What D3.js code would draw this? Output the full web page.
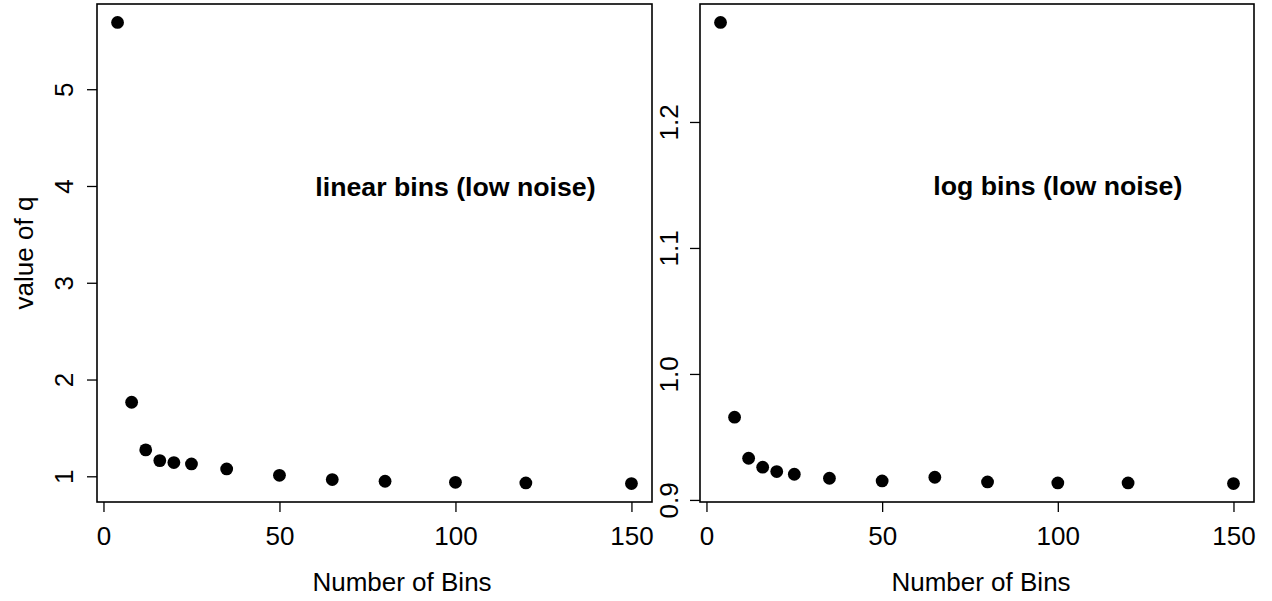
<!DOCTYPE html>
<html>
<head>
<meta charset="utf-8">
<script src="https://cdn.jsdelivr.net/npm/d3@7"></script>
<style>
  html, body { margin: 0; padding: 0; background: #fff; }
  svg { display: block; }
  text { font-family: "Liberation Sans", Arial, Helvetica, sans-serif; fill: #000; }
</style>
</head>
<body>
<svg id="chart" width="1272" height="601"></svg>
<script>
// ---- data ----
const bins = [4, 8, 12, 16, 20, 25, 35, 50, 65, 80, 100, 120, 150];
const qLinear = [5.69, 1.765, 1.273, 1.162, 1.142, 1.128, 1.076, 1.010, 0.966, 0.949, 0.938, 0.931, 0.925];
const qLog = [1.279, 0.9657, 0.9331, 0.9260, 0.9225, 0.9204, 0.9172, 0.9151, 0.9180, 0.9143, 0.9135, 0.9135, 0.9130];
const xTicks = [0, 50, 100, 150];
const yTicksLinear = [1, 2, 3, 4, 5];
const yTickLabelsLinear = ["1", "2", "3", "4", "5"];
const yTicksLog = [0.9, 1.0, 1.1, 1.2];
const yTickLabelsLog = ["0.9", "1.0", "1.1", "1.2"];
const titles = ["linear bins (low noise)", "log bins (low noise)"];
const titleX = [100, 100];
const titleY = [4, 1.15];
const xLabel = "Number of Bins";
const yLabel = "value of q";

// ---- layout ----
const svg = d3.select("#chart");
const FS = 26;
const panels = [
  { left: 97, right: 652, top: 4, bottom: 502, y: qLinear, ticks: yTicksLinear, labels: yTickLabelsLinear,
    title: titles[0], tx: titleX[0], ty: titleY[0], labOff: 24, xlabCx: 402, ylab: true },
  { left: 700, right: 1254, top: 4, bottom: 502, y: qLog, ticks: yTicksLog, labels: yTickLabelsLog,
    title: titles[1], tx: titleX[1], ty: titleY[1], labOff: 22, xlabCx: 981, ylab: false }
];

function padDomain(vals) {
  const lo = d3.min(vals), hi = d3.max(vals), d = (hi - lo) * 0.04;
  return [lo - d, hi + d];
}

panels.forEach(p => {
  const x = d3.scaleLinear().domain(padDomain(bins)).range([p.left, p.right]);
  const y = d3.scaleLinear().domain(padDomain(p.y)).range([p.bottom, p.top]);
  const g = svg.append("g");

  // x axis
  const xa = g.append("g").attr("transform", `translate(0,${p.bottom})`)
    .call(d3.axisBottom(x).tickValues(xTicks).tickSize(10).tickFormat(d3.format("d")));
  xa.select(".domain").remove();
  xa.selectAll("line").attr("stroke", "#000").attr("stroke-width", 1.3);
  xa.selectAll("text").attr("font-size", FS).attr("font-family", null)
    .attr("y", 43).attr("dy", null).attr("fill", "#000");

  // y axis
  const ya = g.append("g").attr("transform", `translate(${p.left},0)`)
    .call(d3.axisLeft(y).tickValues(p.ticks).tickSize(10).tickFormat((d, i) => p.labels[i]));
  ya.select(".domain").remove();
  ya.selectAll("line").attr("stroke", "#000").attr("stroke-width", 1.3);
  ya.selectAll("text").attr("font-size", FS).attr("font-family", null)
    .attr("x", 0).attr("y", -p.labOff).attr("dy", null)
    .attr("text-anchor", "middle").attr("transform", "rotate(-90)").attr("fill", "#000");

  // box
  g.append("rect").attr("x", p.left).attr("y", p.top)
    .attr("width", p.right - p.left).attr("height", p.bottom - p.top)
    .attr("fill", "none").attr("stroke", "#000").attr("stroke-width", 1.6);

  // points
  g.selectAll("circle.pt").data(bins.map((b, i) => [b, p.y[i]])).enter()
    .append("circle").attr("class", "pt")
    .attr("cx", d => x(d[0])).attr("cy", d => y(d[1])).attr("r", 6.4).attr("fill", "#000");

  // in-plot title
  g.append("text").attr("x", x(p.tx)).attr("y", y(p.ty)).attr("dy", "0.36em")
    .attr("text-anchor", "middle").attr("font-size", 26.7).attr("font-weight", "bold").text(p.title);

  // x label
  g.append("text").attr("x", p.xlabCx).attr("y", 591).attr("text-anchor", "middle")
    .attr("font-size", FS).text(xLabel);

  if (p.ylab) {
    g.append("text").attr("transform", `translate(33,${(p.top + p.bottom) / 2}) rotate(-90)`)
      .attr("text-anchor", "middle").attr("font-size", FS).text(yLabel);
  }
});
</script>
</body>
</html>
